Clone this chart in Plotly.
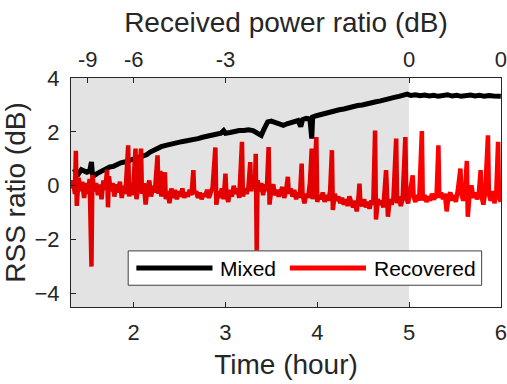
import plotly.graph_objects as go

# ---- data ----
mixed_t = [1.34, 1.37, 1.40, 1.43, 1.46, 1.49, 1.52, 1.54, 1.55, 1.57, 1.60, 1.63, 1.66, 1.70,
           1.74, 1.78, 1.82, 1.86, 1.90, 1.94, 1.98, 2.02, 2.06, 2.10, 2.14, 2.18, 2.22, 2.26,
           2.30, 2.35, 2.40, 2.45, 2.50, 2.55, 2.60, 2.65, 2.70, 2.75, 2.80, 2.85, 2.90, 2.95,
           2.98, 3.00, 3.05, 3.10, 3.15, 3.20, 3.25, 3.30, 3.35, 3.39, 3.42, 3.46, 3.50, 3.55,
           3.59, 3.63, 3.67, 3.71, 3.75, 3.79, 3.82, 3.84, 3.88, 3.92, 3.94, 3.95, 3.99, 4.04,
           4.09, 4.14, 4.19, 4.24, 4.29, 4.34, 4.39, 4.44, 4.49, 4.54, 4.59, 4.64, 4.69, 4.74,
           4.79, 4.84, 4.89, 4.94, 4.98, 5.02, 5.07, 5.12, 5.17, 5.22, 5.27, 5.32, 5.37, 5.42,
           5.47, 5.52, 5.57, 5.62, 5.67, 5.72, 5.77, 5.82, 5.87, 5.92, 5.97, 6.00]
mixed_v = [0.50, 0.55, 0.45, 0.60, 0.55, 0.50, 0.55, 0.88, 0.45, 0.38, 0.45, 0.50, 0.55, 0.65,
           0.70, 0.72, 0.80, 0.85, 0.88, 0.92, 0.95, 1.00, 1.03, 1.07, 1.15, 1.25, 1.32, 1.40,
           1.45, 1.50, 1.55, 1.58, 1.62, 1.65, 1.67, 1.70, 1.75, 1.80, 1.83, 1.88, 1.92, 1.95,
           2.05, 1.95, 1.98, 2.02, 2.05, 2.05, 2.08, 2.05, 1.95, 1.87, 2.10, 2.37, 2.40, 2.35,
           2.30, 2.24, 2.30, 2.35, 2.40, 2.42, 2.20, 2.45, 2.50, 2.48, 1.75, 2.55, 2.60, 2.65,
           2.70, 2.75, 2.78, 2.82, 2.85, 2.90, 2.95, 2.98, 3.00, 3.05, 3.08, 3.12, 3.15, 3.18,
           3.22, 3.28, 3.32, 3.36, 3.40, 3.35, 3.38, 3.34, 3.37, 3.33, 3.36, 3.32, 3.35, 3.38,
           3.33, 3.36, 3.32, 3.35, 3.37, 3.33, 3.36, 3.32, 3.35, 3.33, 3.30, 3.32]

recovered_t = [1.32, 1.34, 1.36, 1.37, 1.38, 1.40, 1.42, 1.44, 1.46, 1.48, 1.50, 1.52, 1.54, 1.55,
               1.57, 1.59, 1.61, 1.63, 1.65, 1.67, 1.69, 1.71, 1.72, 1.73, 1.75, 1.77, 1.79, 1.81,
               1.83, 1.85, 1.87, 1.89, 1.91, 1.94, 1.95, 1.97, 1.99, 2.02, 2.03, 2.05, 2.08, 2.09,
               2.11, 2.13, 2.15, 2.17, 2.19, 2.21, 2.23, 2.26, 2.27, 2.29, 2.30, 2.32, 2.34, 2.35,
               2.37, 2.39, 2.41, 2.43, 2.45, 2.47, 2.49, 2.51, 2.53, 2.55, 2.57, 2.59, 2.61, 2.63,
               2.65, 2.66, 2.68, 2.70, 2.72, 2.74, 2.76, 2.78, 2.80, 2.82, 2.84, 2.86, 2.89, 2.90,
               2.92, 2.94, 2.96, 2.98, 3.00, 3.01, 3.03, 3.05, 3.07, 3.09, 3.11, 3.13, 3.15, 3.18,
               3.19, 3.21, 3.23, 3.25, 3.27, 3.28, 3.30, 3.32, 3.33, 3.34, 3.35, 3.37, 3.39, 3.41,
               3.43, 3.45, 3.47, 3.48, 3.50, 3.52, 3.54, 3.56, 3.58, 3.60, 3.62, 3.64, 3.66, 3.68,
               3.69, 3.71, 3.73, 3.75, 3.77, 3.79, 3.81, 3.83, 3.84, 3.86, 3.88, 3.90, 3.92, 3.94,
               3.95, 3.97, 3.99, 4.00, 4.02, 4.04, 4.06, 4.08, 4.10, 4.12, 4.14, 4.16, 4.17, 4.19,
               4.21, 4.23, 4.25, 4.27, 4.29, 4.31, 4.33, 4.35, 4.37, 4.39, 4.41, 4.43, 4.45, 4.46,
               4.47, 4.49, 4.51, 4.53, 4.55, 4.57, 4.59, 4.61, 4.63, 4.64, 4.66, 4.68, 4.70, 4.72,
               4.75, 4.76, 4.77, 4.79, 4.81, 4.83, 4.86, 4.87, 4.89, 4.91, 4.93, 4.96, 4.97, 4.99,
               5.01, 5.04, 5.05, 5.07, 5.09, 5.11, 5.14, 5.15, 5.17, 5.19, 5.21, 5.23, 5.25, 5.27,
               5.30, 5.32, 5.33, 5.35, 5.37, 5.39, 5.41, 5.43, 5.45, 5.47, 5.49, 5.51, 5.53, 5.56,
               5.57, 5.59, 5.61, 5.63, 5.64, 5.66, 5.68, 5.70, 5.72, 5.74, 5.76, 5.78, 5.79, 5.81,
               5.83, 5.86, 5.87, 5.89, 5.91, 5.93, 5.95, 5.97, 5.98, 6.00]
recovered_v = [-0.10, 0.20, -0.30, 1.30, -0.75, 0.30, -0.20, 0.15, -0.45, 0.10, -0.30, 0.25, -3.00, 0.40,
               -0.20, 0.10, -0.35, 0.05, -0.50, 0.20, -0.15, 0.60, -0.80, 0.35, -0.20, 0.10, -0.40, 0.05,
               -0.25, 0.15, -0.45, 0.00, -0.30, 1.50, -0.40, 0.10, -0.35, 1.38, -0.50, 0.05, 1.38, -0.30,
               0.10, -0.70, -0.10, 0.20, -0.40, 0.00, -0.25, 1.13, -0.30, 0.55, -0.40, -0.05, 0.50, -0.50,
               -0.20, -0.65, -0.10, -0.45, -0.15, -0.50, -0.20, -0.40, -0.10, -0.45, -0.25, -0.40, -0.15, -0.35,
               0.58, -0.30, -0.20, -0.45, -0.25, -0.50, -0.30, -0.40, -0.15, -0.45, -0.25, -0.05, 1.42, -0.70,
               -0.20, -0.45, -0.10, -0.50, 0.45, -0.30, -0.60, -0.15, -0.40, 0.00, -0.30, -0.10, -0.45, 1.63,
               -0.40, -0.10, -0.30, -0.05, 0.88, -0.20, 0.20, -0.10, 1.19, -2.40, 0.20, -0.20, 0.10, -0.35,
               0.05, -0.20, 1.44, -0.70, -0.10, 0.05, -0.35, -0.15, -0.40, -0.20, -0.05, -0.45, -0.20, 0.33,
               -0.30, -0.10, -0.40, -0.15, -0.50, -0.25, -0.45, 0.82, -0.30, -0.65, -0.30, -0.45, 0.10, 1.38,
               -0.50, 0.20, 1.81, -0.60, -0.35, -0.50, -0.25, -0.60, -0.35, -0.55, -0.20, 1.32, -0.90, -0.30,
               -0.55, -0.40, -0.65, -0.45, -0.70, -0.50, -0.75, -0.40, -0.60, -0.80, -0.55, -0.95, -0.40, 0.08,
               -0.60, -0.75, -0.50, -0.80, -0.60, -0.85, -0.55, -0.70, 2.05, -1.25, -0.50, -0.70, -0.55, -0.80,
               0.58, -0.60, -1.15, -0.50, -0.70, -0.45, 1.75, -0.65, -0.40, -0.75, -0.50, 1.81, -0.45, -0.65,
               -0.30, 0.39, -0.40, -0.60, -0.35, -0.55, 2.03, -0.55, -0.35, -0.60, -0.40, -0.55, -0.30, -0.50,
               -0.35, 1.50, -0.45, -0.25, -0.50, -0.30, -0.95, -0.40, -0.25, -0.55, -0.35, -0.60, -0.20, 0.64,
               -0.30, -0.55, -0.20, 0.92, -1.15, -0.30, 0.02, -0.45, -0.25, -0.50, -0.30, 0.58, -0.40, -0.70,
               -0.25, 1.87, -0.30, -0.55, -0.20, -0.65, -0.30, 1.63, -0.40, -0.60]

series_names = ["Mixed", "Recovered"]
series_colors = ["black", "#ff0000"]
top_tick_pos = [1.50, 2.0, 3.0, 5.0, 6.0]
top_tick_text = ["-9", "-6", "-3", "0", "0"]
x_range = [1.317, 6.002]
y_range = [-4.5, 4.0]
shade_end = 5.0

FONT = "Liberation Sans, Arial, sans-serif"
AX = "#262626"

fig = go.Figure()
fig.add_trace(go.Scatter(x=mixed_t, y=mixed_v, mode="lines", name=series_names[0],
                         line=dict(color=series_colors[0], width=5), showlegend=False))
fig.add_trace(go.Scatter(x=recovered_t, y=recovered_v, mode="lines", name=series_names[1],
                         line=dict(color=series_colors[1], width=4.5), showlegend=False))
# invisible trace so the top axis is drawn
fig.add_trace(go.Scatter(x=x_range, y=[0, 0], xaxis="x2", mode="markers",
                         marker=dict(opacity=0), showlegend=False, hoverinfo="skip"))

# shaded region (semi-transparent, drawn over the lines as in the reference)
fig.add_shape(type="rect", xref="x", yref="paper", x0=x_range[0], x1=shade_end, y0=0, y1=1,
              fillcolor="rgba(0,0,0,0.11)", line=dict(width=0), layer="above")

# legend box (paper coordinates)
fig.add_shape(type="rect", xref="paper", yref="paper", x0=0.133, x1=0.955, y0=0.095, y1=0.245,
              fillcolor="white", line=dict(color="#404040", width=1), layer="above")
leg_items = [(0.152, 0.329, 0.343), (0.509, 0.686, 0.700)]
for (lx0, lx1, tx), name, col in zip(leg_items, series_names, series_colors):
    fig.add_shape(type="line", xref="paper", yref="paper", x0=lx0, x1=lx1, y0=0.170, y1=0.170,
                  line=dict(color=col, width=5), layer="above")
    fig.add_annotation(xref="paper", yref="paper", x=tx, y=0.170, text=name, showarrow=False,
                       xanchor="left", yanchor="middle", font=dict(size=21, color="black"))

axis_common = dict(ticks="inside", ticklen=5, tickcolor=AX, showgrid=False, zeroline=False,
                   tickfont=dict(size=22), automargin=False, ticklabelstandoff=6,
                   ticklabeloverflow="allow")

fig.update_layout(
    width=507, height=384,
    margin=dict(l=71, r=6, t=78, b=77),
    paper_bgcolor="white", plot_bgcolor="white",
    font=dict(family=FONT, color=AX, size=21),
    showlegend=False,
    xaxis=dict(range=x_range, tickvals=[2, 3, 4, 5, 6], showline=True, linecolor=AX,
               linewidth=1, mirror=True,
               title=dict(text="Time (hour)", font=dict(size=28), standoff=9), **axis_common),
    xaxis2=dict(range=x_range, overlaying="x", side="top", tickvals=top_tick_pos,
                ticktext=top_tick_text, showline=False,
                title=dict(text="Received power ratio (dB)", font=dict(size=28), standoff=5),
                **axis_common),
    yaxis=dict(range=y_range, tickvals=[-4, -2, 0, 2, 4], showline=True, linecolor=AX,
               linewidth=1, mirror=True,
               title=dict(text="RSS ratio (dB)", font=dict(size=28), standoff=1), **axis_common),
)

fig.write_html("out.html")
